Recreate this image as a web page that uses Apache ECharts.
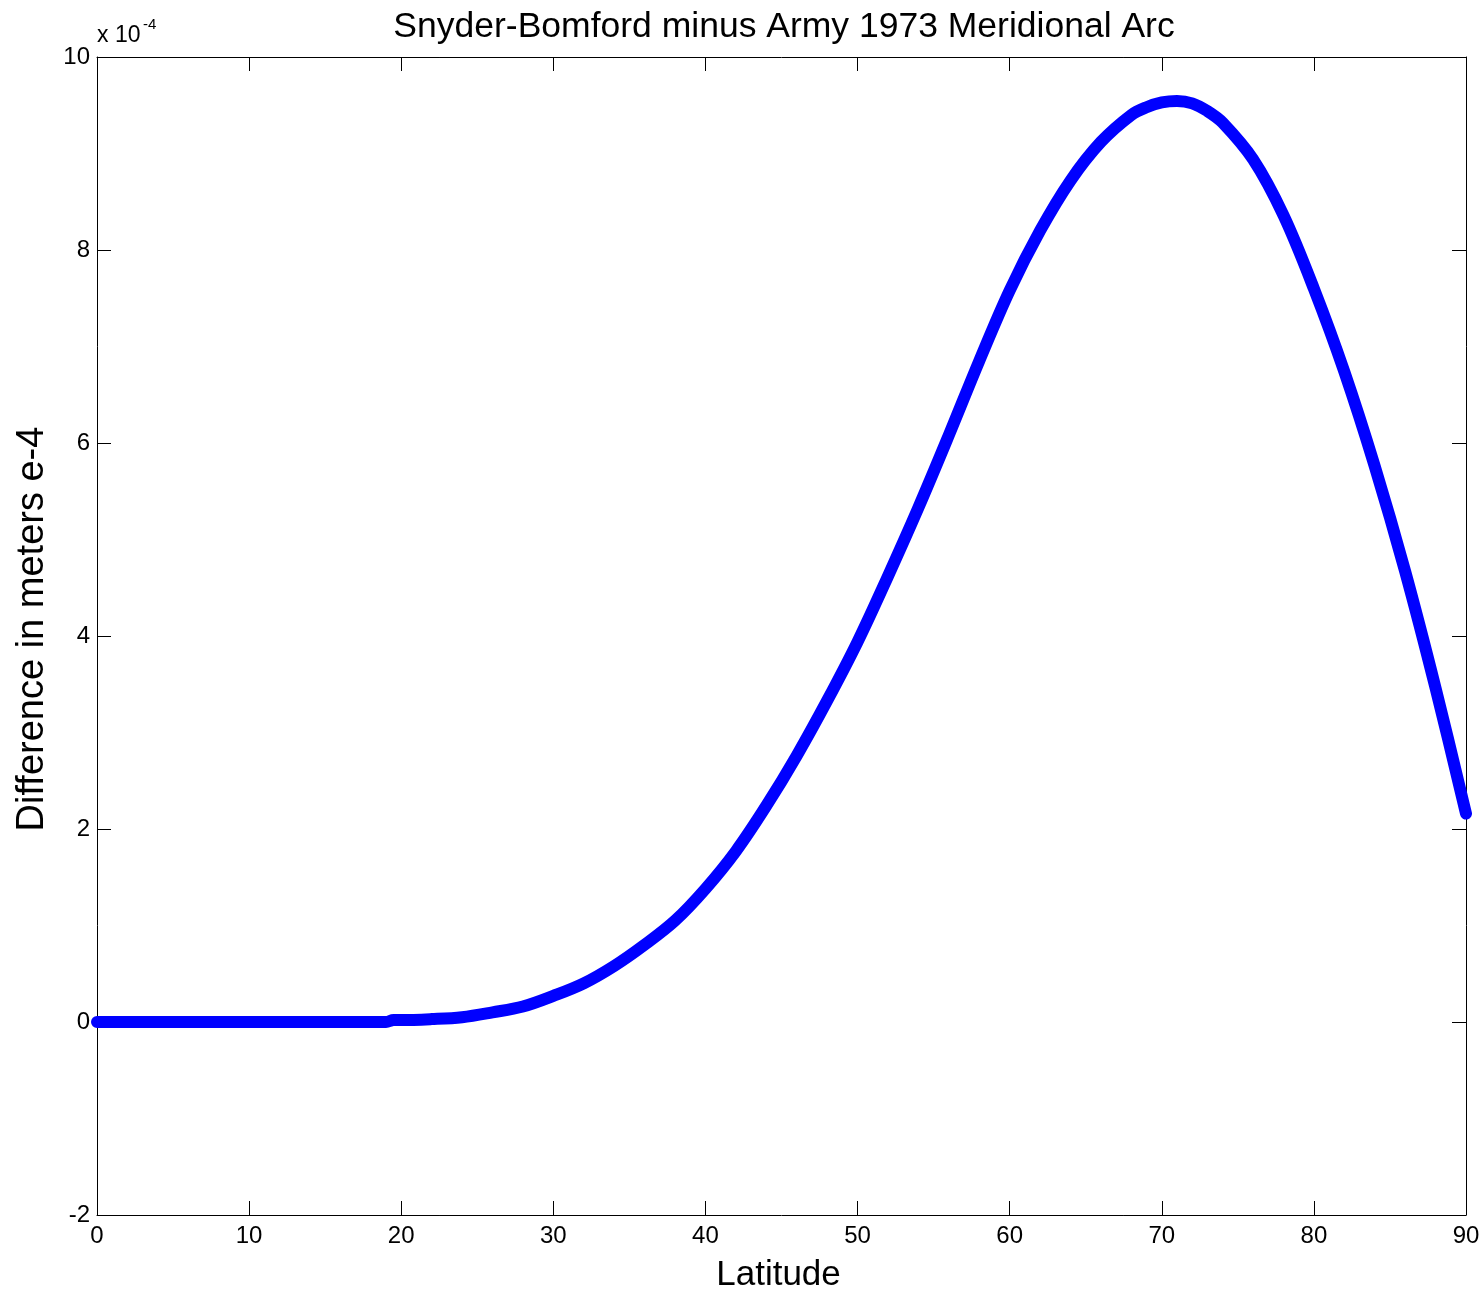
<!DOCTYPE html>
<html>
<head>
<meta charset="utf-8">
<script src="https://cdn.jsdelivr.net/npm/echarts@6/dist/echarts.min.js"></script>
<style>
html,body{margin:0;padding:0;background:#fff;}
#chart{width:1484px;height:1298px;}
</style>
</head>
<body>
<div id="chart"></div>
<script>
const latitude = [0,2,4,6,8,10,12,14,16,18,19,19.5,20,22,24,26,28,30,32,34,36,38,40,42,44,46,48,50,52,54,56,58,60,62,64,66,68,69,70,71,72,73,74,76,78,80,82,84,86,88,90];
const difference = [0,0,0,0,0,0,0,0,0,0,0,0.02,0.02,0.03,0.05,0.10,0.16,0.27,0.40,0.58,0.80,1.05,1.38,1.77,2.24,2.76,3.33,3.94,4.62,5.33,6.08,6.85,7.58,8.20,8.72,9.12,9.40,9.48,9.53,9.545,9.52,9.44,9.32,8.94,8.36,7.60,6.74,5.76,4.67,3.46,2.16];
const xTicks = [0,10,20,30,40,50,60,70,80,90];
const yTicks = [-2,0,2,4,6,8,10];
const titleText = 'Snyder-Bomford minus Army 1973 Meridional Arc';
const xName = 'Latitude';
const yName = 'Difference in meters e-4';
const exponentBase = 'x 10';
const exponentPower = '-4';

const FONT = '"Liberation Sans", Arial, Helvetica, sans-serif';
const chart = echarts.init(document.getElementById('chart'), null, {renderer:'canvas'});
const axisCommon = {
  type:'value',
  axisLine:{show:true, onZero:false, lineStyle:{color:'#000', width:1}},
  axisTick:{show:true, inside:true, length:14, lineStyle:{color:'#000', width:1}},
  splitLine:{show:false},
};
const series = [{
  type:'line',
  data: latitude.map((x,i)=>[x, difference[i]]),
  showSymbol:false,
  symbol:'none',
  smooth:0.35,
  lineStyle:{color:'#0000ff', width:12, cap:'round', join:'round'},
  silent:true,
  animation:false
}];
chart.setOption({
  animation:false,
  backgroundColor:'#fff',
  title:{
    text:titleText, left:779, textAlign:'center', top:4,
    textStyle:{fontFamily:FONT, fontSize:35.5, fontWeight:'normal', color:'#000'}
  },
  grid:{left:97, right:18, top:57, bottom:75, containLabel:false},
  xAxis:[
    Object.assign({}, axisCommon, {
      position:'bottom', min:0, max:90, interval:10,
      axisLabel:{show:true, margin:9, fontFamily:FONT, fontSize:24, color:'#000'},
      name:xName, nameLocation:'middle', nameGap:43,
      nameTextStyle:{fontFamily:FONT, fontSize:35, color:'#000', padding:[0,6,0,0]}
    }),
    Object.assign({}, axisCommon, {
      position:'top', min:0, max:90, interval:10,
      axisLabel:{show:false}
    })
  ],
  yAxis:[
    Object.assign({}, axisCommon, {
      position:'left', min:-2, max:10, interval:2,
      axisLabel:{show:true, margin:7, fontFamily:FONT, fontSize:24, color:'#000'},
      name:yName, nameLocation:'middle', nameGap:45, nameRotate:90,
      nameTextStyle:{fontFamily:FONT, fontSize:38, color:'#000', padding:[0,0,0,14]}
    }),
    Object.assign({}, axisCommon, {
      position:'right', min:-2, max:10, interval:2,
      axisLabel:{show:false}
    })
  ],
  graphic:[{
    type:'text', x:97, y:36,
    style:{text:exponentBase, fontFamily:FONT, fontSize:23, fill:'#000', verticalAlign:'middle', align:'left'}
  },{
    type:'text', x:143, y:25,
    style:{text:exponentPower, fontFamily:FONT, fontSize:15, fill:'#000', verticalAlign:'middle', align:'left'}
  }],
  series:series
});
</script>
</body>
</html>
